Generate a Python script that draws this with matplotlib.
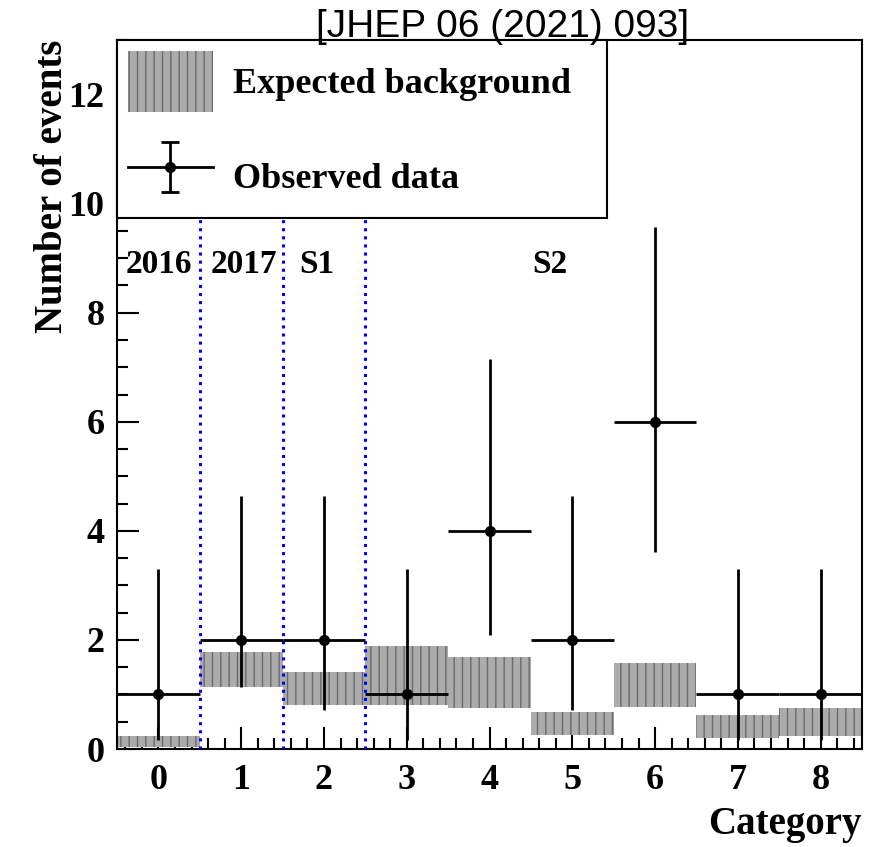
import numpy as np
import matplotlib
matplotlib.use("Agg")
import matplotlib.pyplot as plt
from matplotlib.ticker import MultipleLocator
from matplotlib.container import ErrorbarContainer
from matplotlib.legend_handler import HandlerErrorbar

# categories and observed counts
categories = [0, 1, 2, 3, 4, 5, 6, 7, 8]
observed = [1, 2, 2, 1, 4, 2, 6, 1, 1]
obs_low = [0.17, 1.14, 0.71, 0.17, 2.09, 0.71, 3.62, 0.17, 0.17]
obs_high = [3.30, 4.64, 4.64, 3.30, 7.16, 4.64, 9.58, 3.30, 3.30]

# expected background band (low, high) per category
bkg_low = [0.04, 1.14, 0.81, 0.81, 0.75, 0.26, 0.77, 0.21, 0.23]
bkg_high = [0.23, 1.78, 1.41, 1.88, 1.68, 0.68, 1.58, 0.62, 0.75]

# region separators and labels
separators = [0.5, 1.5, 2.5]
region_names = ["2016", "2017", "S1", "S2"]
region_x = [0.0, 1.03, 1.91, 4.73]
region_y = 8.88

plt.rcParams['font.family'] = ['Liberation Serif', 'DejaVu Serif']
plt.rcParams['font.weight'] = 'bold'
plt.rcParams['font.size'] = 24

fig = plt.figure(figsize=(8.77, 8.47), dpi=100)
ax = fig.add_axes([117 / 877, 1 - 749 / 847, 745 / 877, 709 / 847])

x = np.array(categories, dtype=float)
obs = np.array(observed, dtype=float)
lo = np.array(bkg_low)
hi = np.array(bkg_high)

bars = ax.bar(x, hi - lo, width=1.0, bottom=lo, facecolor='#ababab',
              edgecolor='#6a6a6a', hatch='||', linewidth=0, zorder=2,
              label='Expected background')

yerr = np.vstack([obs - np.array(obs_low), np.array(obs_high) - obs])
ax.errorbar(x, obs, xerr=0.5, yerr=yerr, fmt='o', color='black',
            markersize=7, elinewidth=2, capsize=0, zorder=4)

for s in separators:
    ax.axvline(s, color='blue', linestyle=':', linewidth=2.2, zorder=3)

for name, rx in zip(region_names, region_x):
    ax.text(rx, region_y, name, ha='center', va='center', fontsize=24,
            fontweight='bold', zorder=3)

# legend proxy for data: vertical caps, horizontal line through marker
proxy = ax.errorbar([np.nan], [np.nan], yerr=[1.0], fmt='o-', color='black',
                    markersize=7, elinewidth=2, linewidth=2, capsize=6.5,
                    capthick=2, label='Observed data')

leg = ax.legend(handles=[bars, proxy],
                labels=['Expected background', 'Observed data'],
                loc='upper left', bbox_to_anchor=(0, 0.756, 0.658, 0.244),
                mode='expand', borderaxespad=0, fancybox=False,
                framealpha=1, edgecolor='black', fontsize=26,
                handlelength=2.35, handleheight=2.22, labelspacing=0.95,
                handletextpad=0.55, borderpad=0.3,
                handler_map={ErrorbarContainer: HandlerErrorbar(yerr_size=0.68)})
leg.get_frame().set_linewidth(1.5)
leg.set_zorder(6)

ax.set_xlim(-0.5, 8.5)
ax.set_ylim(0, 13)
ax.xaxis.set_major_locator(MultipleLocator(1))
ax.xaxis.set_minor_locator(MultipleLocator(0.2))
ax.yaxis.set_major_locator(MultipleLocator(2))
ax.yaxis.set_minor_locator(MultipleLocator(0.5))
ax.tick_params(which='both', direction='in', top=False, right=False,
               width=1.5, labelsize=26)
ax.tick_params(which='major', length=16)
ax.tick_params(which='minor', length=8)
ax.tick_params(axis='x', which='major', pad=11)
ax.tick_params(axis='y', which='major', pad=9)
for sp in ax.spines.values():
    sp.set_linewidth(1.5)

ax.set_xlabel('Category', fontsize=28, fontweight='bold', loc='right')
ax.xaxis.set_label_coords(1.0, -0.081)
ax.set_ylabel('Number of events', fontsize=28, fontweight='bold', loc='top')
ax.yaxis.set_label_coords(-0.062, 1.0)

fig.text(503 / 877, 1 - 37 / 847, '[JHEP 06 (2021) 093]', ha='center',
         va='baseline', fontsize=28, fontweight='normal',
         family=['Liberation Sans', 'DejaVu Sans'])

fig.savefig('out.png', dpi=100)
